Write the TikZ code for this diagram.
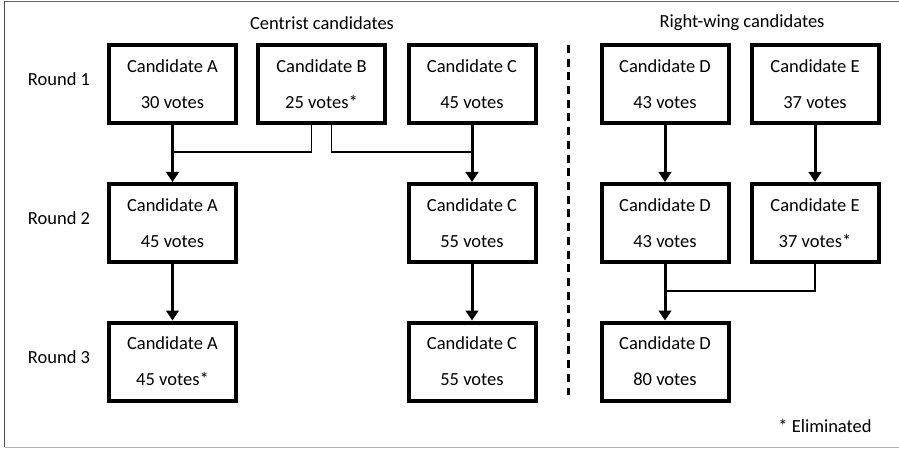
\documentclass[tikz,border=0pt]{standalone}
\usepackage{fontspec}
\setmainfont{Carlito}
\usetikzlibrary{arrows.meta,calc}
\begin{document}
\begin{tikzpicture}[x=1pt,y=-1pt,
  cand/.style={draw=black,line width=4pt,minimum width=127pt,minimum height=78pt,inner sep=0pt,align=center,font=\fontsize{18.5}{36}\selectfont},
  lbl/.style={font=\fontsize{18.5}{22}\selectfont,inner sep=0pt},
  arr/.style={line width=3pt,-{Triangle[width=12.5pt,length=10pt]}},
  thinline/.style={line width=1.6pt}]
\useasboundingbox (0,0) rectangle (899,449);
\fill[white] (0,0) rectangle (899,449);
% frame
\draw[line width=1.5pt,black!70] (4.7,1.5) -- (4.7,447);
\draw[line width=1.2pt,black!60] (4.7,1.5) -- (899,1.5);
\draw[line width=1.2pt,black!30] (4.7,447.5) -- (899,447.5);
% headers
\node[lbl] (hc) at (322,23) {Centrist candidates};
\node[lbl] (hr) at (742,23) {Right-wing candidates};
% round labels
\node[lbl] (r1) at (59,79) {Round 1};
\node[lbl] (r2) at (59,218) {Round 2};
\node[lbl] (r3) at (59,357) {Round 3};
% boxes
\node[cand] (A1) at (172.5,84) {Candidate A\\30 votes};
\node[cand] (B1) at (321.5,84) {Candidate B\\25 votes*};
\node[cand] (C1) at (472,84) {Candidate C\\45 votes};
\node[cand] (D1) at (665,84) {Candidate D\\43 votes};
\node[cand] (E1) at (815,84) {Candidate E\\37 votes};
\node[cand] (A2) at (172.5,223) {Candidate A\\45 votes};
\node[cand] (C2) at (472,223) {Candidate C\\55 votes};
\node[cand] (D2) at (665,223) {Candidate D\\43 votes};
\node[cand] (E2) at (815,223) {Candidate E\\37 votes*};
\node[cand] (A3) at (172.5,361.5) {Candidate A\\45 votes*};
\node[cand] (C3) at (472,361.5) {Candidate C\\55 votes};
\node[cand] (D3) at (665,361.5) {Candidate D\\80 votes};
% divider
\coordinate (dv1) at (568,45);
\coordinate (dv2) at (568,395);
\draw[line width=3pt,dash pattern=on 8pt off 5.7pt] (dv1) -- (dv2);
% junctions
\path (A1.south) ++(0,27) coordinate (jA);
\path (C1.south) ++(0,27) coordinate (jC);
\path (D2.south) ++(0,27) coordinate (jD);
% connectors
\draw[thinline] ([xshift=-10pt]B1.south) |- (jA);
\draw[thinline] ([xshift=10pt]B1.south) |- (jC);
\draw[thinline] (E2.south) |- (jD);
\draw[arr] (A1.south) -- (A2.north);
\draw[arr] (C1.south) -- (C2.north);
\draw[arr] (D1.south) -- (D2.north);
\draw[arr] (E1.south) -- (E2.north);
\draw[arr] (A2.south) -- (A3.north);
\draw[arr] (C2.south) -- (C3.north);
\draw[arr] (D2.south) -- (D3.north);
% note
\node[lbl] (note) at (825,426) {* Eliminated};
\end{tikzpicture}
\end{document}
